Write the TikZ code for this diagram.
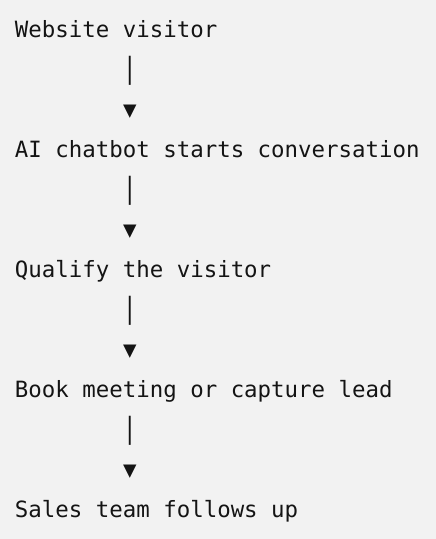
\documentclass[tikz,border=0pt]{standalone}
\usepackage{fontspec}
\setmonofont{DejaVu Sans Mono}
\definecolor{bgc}{HTML}{F2F2F2}
\definecolor{textc}{HTML}{141414}
\begin{document}
\begin{tikzpicture}[x=1pt,y=-1pt,
  txt/.style={inner sep=0pt, outer sep=0pt, anchor=base west, text=textc,
    font=\ttfamily\fontsize{22.4}{26}\selectfont}]
\newcommand{\tallbar}{\raisebox{-1pt}{\scalebox{1}[1.3]{|}}}
\fill[bgc] (0,0) rectangle (436,539);
\useasboundingbox (0,0) rectangle (436,539);
\node[txt] (s1) at (15,37) {Website visitor};
\node[txt] (p1) at (123,77) {\tallbar};
\node[txt] (a1) at (123,117) {▼};
\node[txt] (s2) at (15,157) {AI chatbot starts conversation};
\node[txt] (p2) at (123,197) {\tallbar};
\node[txt] (a2) at (123,237) {▼};
\node[txt] (s3) at (15,277) {Qualify the visitor};
\node[txt] (p3) at (123,317) {\tallbar};
\node[txt] (a3) at (123,357) {▼};
\node[txt] (s4) at (15,397) {Book meeting or capture lead};
\node[txt] (p4) at (123,437) {\tallbar};
\node[txt] (a4) at (123,477) {▼};
\node[txt] (s5) at (15,517) {Sales team follows up};
\end{tikzpicture}
\end{document}
